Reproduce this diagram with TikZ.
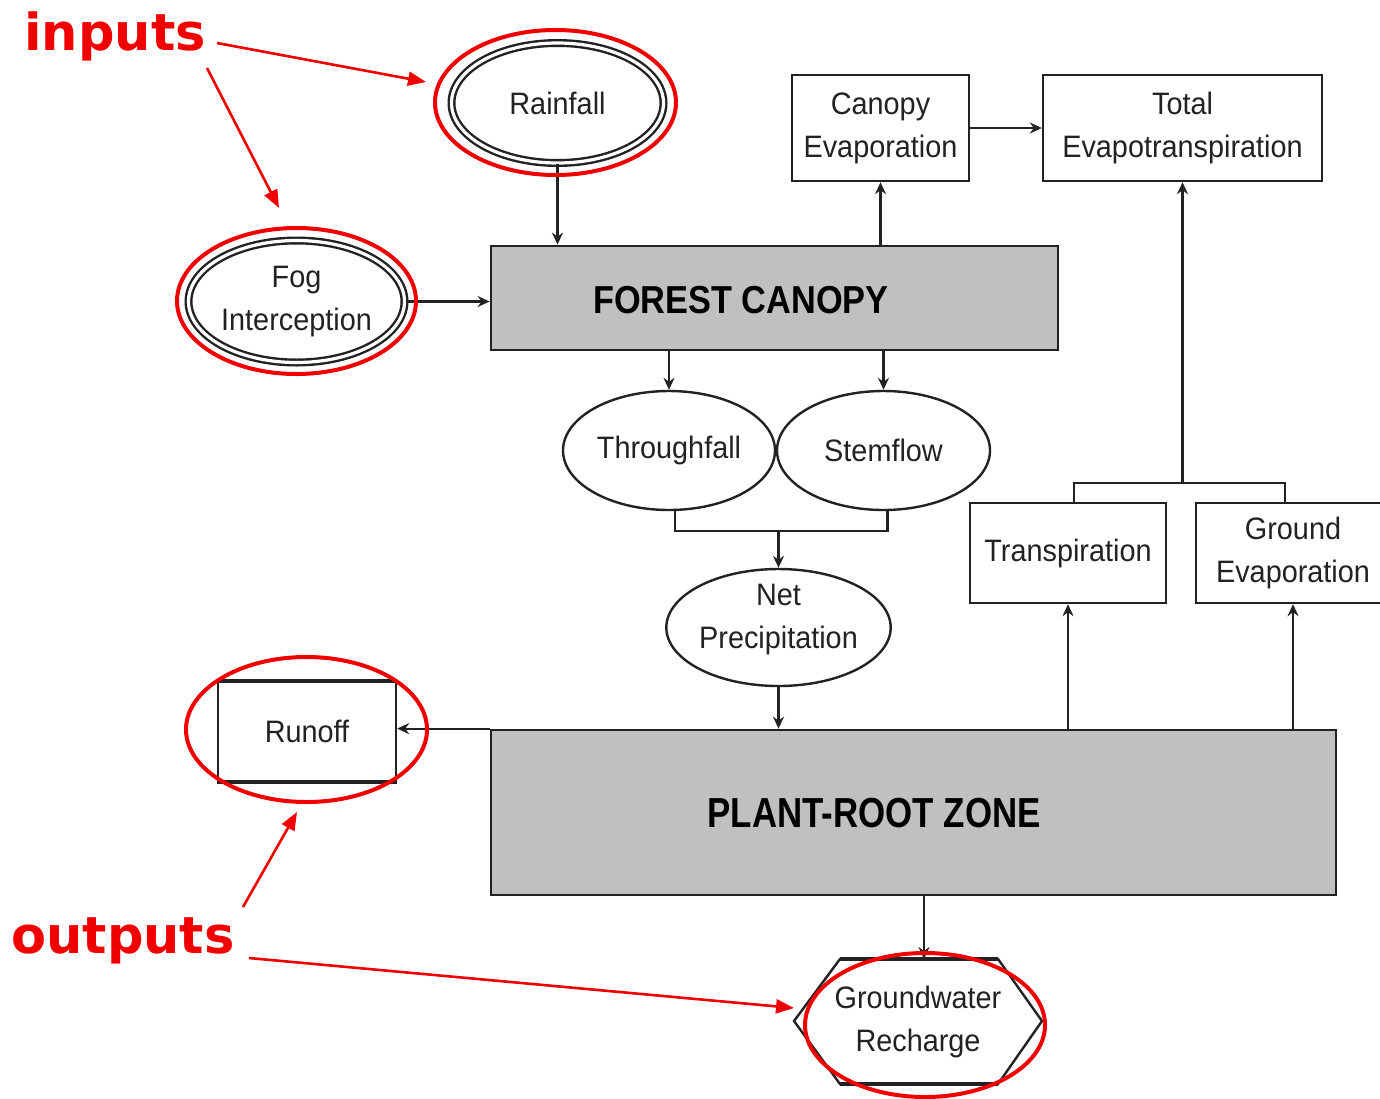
\documentclass[tikz,border=0pt]{standalone}
\usepackage{fontspec}
\setmainfont{Liberation Sans}
\newfontfamily\labfam[FakeStretch=0.93]{Liberation Sans}
\newfontfamily\bigfam[FakeStretch=0.88]{Liberation Sans}
\newfontfamily\plantfam[FakeStretch=0.83]{Liberation Sans}
\newfontfamily\redfam{DejaVu Sans}
\usetikzlibrary{shapes.geometric,arrows.meta}
\definecolor{ink}{HTML}{222222}
\definecolor{blockgray}{HTML}{C0C0C0}
\definecolor{ringred}{HTML}{F00000}
\newcommand\lbfont{\labfam\fontsize{15.5pt}{21.5pt}\selectfont}
\tikzset{
  shapeline/.style={draw=ink, line width=1.2pt, inner sep=0pt, align=center, text=ink, font=\lbfont},
  box/.style={shapeline, rectangle, fill=white},
  oval/.style={shapeline, ellipse, fill=white},
  dbloval/.style={shapeline, ellipse, line width=1.2pt, double=white, double distance=1.6pt},
  grayblock/.style={draw=ink, line width=1.4pt, rectangle, fill=blockgray, inner sep=0pt},
  biglab/.style={inner sep=0pt, text=black, font=\bigfam\bfseries\fontsize{19.5pt}{22pt}\selectfont},
  conn/.style={draw=ink, line width=1.1pt},
  arr/.style={conn, -{Stealth[length=6pt,width=5.5pt,inset=2pt]}},
  redlab/.style={inner sep=0pt, text=ringred, font=\redfam\bfseries\fontsize{25.5pt}{28pt}\selectfont},
  redarr/.style={draw=ringred, line width=1.3pt, -{Triangle[length=9pt,width=7pt]}},
  ring/.style={draw=ringred, line width=2pt}
}
\begin{document}
\begin{tikzpicture}[x=0.5pt,y=-0.5pt]
\useasboundingbox (0,0) rectangle (1380,1098);
\begin{scope}
\clip (0,0) rectangle (1380,1098);
% main blocks
\node[grayblock, minimum width=283.5pt, minimum height=52pt] (canopy) at (774.5,298) {};
\node[biglab] (canopylab) at (741,300) {FOREST CANOPY};
\node[grayblock, minimum width=422.5pt, minimum height=82.5pt] (plant) at (913.5,812.5) {};
\node[biglab, font=\plantfam\bfseries\fontsize{21pt}{24pt}\selectfont] (plantlab) at (874,813) {PLANT-ROOT ZONE};
% inputs
\node[dbloval, minimum width=106pt, minimum height=60pt] (rain) at (557.5,103) {Rainfall};
\node[dbloval, minimum width=108pt, minimum height=61pt] (fog) at (296.5,301.5) {Fog\\Interception};
% evaporation boxes
\node[box, minimum width=88.5pt, minimum height=53pt] (cevap) at (880.5,128) {Canopy\\Evaporation};
\node[box, minimum width=139.5pt, minimum height=53pt] (tevap) at (1182.5,128) {Total\\Evapotranspiration};
% ovals
\node[oval, minimum width=106pt, minimum height=59.5pt] (through) at (669,450.5) {Throughfall};
\node[oval, minimum width=106.5pt, minimum height=59.5pt] (stem) at (883.5,450.5) {Stemflow};
\node[oval, minimum width=107.5pt, minimum height=58.5pt] (net) at (778.5,627.5)
  {\raisebox{1pt}[0pt][0pt]{\begin{tabular}{@{}c@{}}Net\\Precipitation\end{tabular}}};
% outputs
\node[box, minimum width=89pt, minimum height=49.5pt] (runoff) at (307,731.5) {Runoff};
\draw[ink, line width=2pt] (runoff.north west) -- (runoff.north east);
\draw[ink, line width=2pt] (runoff.south west) -- (runoff.south east);
\node[box, minimum width=98pt, minimum height=50pt] (trans) at (1068,553) {Transpiration};
\node[box, minimum width=97pt, minimum height=50pt] (gevap) at (1293,553) {Ground\\Evaporation};
\draw[draw=ink, line width=1.2pt, fill=white] (840,959) -- (998,959) -- (1042,1021) -- (998,1084) -- (840,1084) -- (794,1021) -- cycle;
\draw[ink, line width=2pt] (840,959) -- (998,959);
\draw[ink, line width=2pt] (840,1084) -- (998,1084);
\node[inner sep=0pt, align=center, text=ink, font=\lbfont] (gw) at (918,1022) {Groundwater\\Recharge};
\coordinate (gwtop) at (924,959);
% connectors
\draw[arr] (rain.south) -- (rain.south |- canopy.north);
\draw[arr] (fog.east) -- (fog.east -| canopy.west);
\draw[arr] (cevap.south |- canopy.north) -- (cevap.south);
\draw[arr] (cevap.east) -- (tevap.west);
\draw[arr] (through.north |- canopy.south) -- (through.north);
\draw[arr] (stem.north |- canopy.south) -- (stem.north);
\coordinate (tsjoin) at (0,531);
\draw[conn] ([xshift=3pt]through.south) |- (net.north |- tsjoin) -| ([xshift=2pt]stem.south);
\draw[arr] (net.north |- tsjoin) -- (net.north);
\draw[arr] (net.south) -- (net.south |- plant.north);
\draw[arr] (plant.north west) -- (plant.north west -| runoff.east);
\draw[arr] (trans.south |- plant.north) -- (trans.south);
\draw[arr] (gevap.south |- plant.north) -- (gevap.south);
\coordinate (evjoin) at (0,483);
\draw[conn] ([xshift=3pt]trans.north) |- (tevap.south |- evjoin) -| ([xshift=-4pt]gevap.north);
\draw[arr] (tevap.south |- evjoin) -- (tevap.south);
\draw[arr] (gwtop |- plant.south) -- (gwtop);
% red annotations
\node[redlab, anchor=base west] (inputs) at (24,50) {inputs};
\node[redlab, anchor=base west] (outputs) at (11,953) {outputs};
\coordinate (in1s) at (217,43);   \coordinate (in1e) at (426,82);
\coordinate (in2s) at (207,68);   \coordinate (in2e) at (279,208);
\coordinate (out1s) at (243,907); \coordinate (out1e) at (297,812);
\coordinate (out2s) at (249,958); \coordinate (out2e) at (794,1008);
\draw[redarr] (in1s) -- (in1e);
\draw[redarr] (in2s) -- (in2e);
\draw[redarr] (out1s) -- (out1e);
\draw[redarr] (out2s) -- (out2e);
\draw[ring] (555.5,102.5) ellipse [x radius=60.25pt, y radius=36.25pt];
\draw[ring] (296.5,301) ellipse [x radius=59.75pt, y radius=36.5pt];
\draw[ring] (306.5,729.5) ellipse [x radius=60.25pt, y radius=36.25pt];
\draw[ring] (925,1025) ellipse [x radius=60pt, y radius=36pt];
\end{scope}
\end{tikzpicture}
\end{document}
